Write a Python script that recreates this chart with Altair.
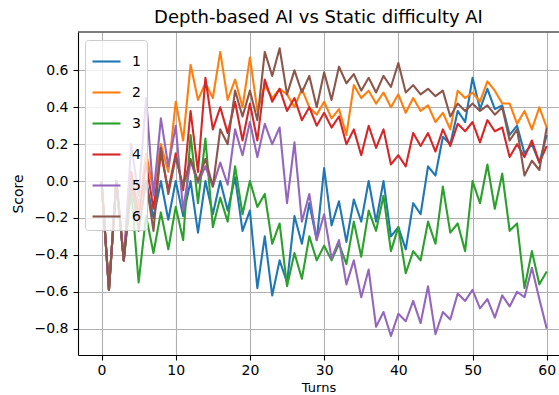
import altair as alt
import pandas as pd

turns = list(range(61))
names = ["1", "2", "3", "4", "5", "6"]
colors = ["#1f77b4", "#ff7f0e", "#2ca02c", "#d62728", "#9467bd", "#8c564b"]

s1 = [0, -0.59, 0, -0.43, 0.0, -0.12, 0.0, -0.2, 0.0, -0.21,
      0.0, -0.19, 0.0, -0.28, 0.0, -0.18, 0.0, -0.16, 0.02, -0.27,
      -0.16, -0.58, -0.3, -0.62, -0.43, -0.55, -0.19, -0.34, -0.12, -0.32,
      0.07, -0.24, -0.11, -0.33, -0.1, -0.22, 0.0, -0.22, 0.0, -0.3,
      -0.25, -0.37, -0.12, -0.18, 0.08, 0.03, 0.24, 0.2, 0.38, 0.32,
      0.56, 0.39, 0.5, 0.39, 0.41, 0.25, 0.3, 0.15, 0.2, 0.1, 0.25]
s2 = [0, -0.59, 0, -0.43, 0.05, -0.15, 0.15, -0.05, 0.2, 0.05,
      0.43, 0.22, 0.63, 0.44, 0.53, 0.45, 0.70, 0.44, 0.55, 0.40,
      0.67, 0.38, 0.52, 0.45, 0.50, 0.47, 0.40, 0.50, 0.40, 0.36,
      0.43, 0.34, 0.39, 0.25, 0.52, 0.45, 0.49, 0.42, 0.48, 0.40,
      0.47, 0.37, 0.45, 0.38, 0.41, 0.32, 0.37, 0.28, 0.49, 0.45,
      0.48, 0.43, 0.54, 0.49, 0.42, 0.42, 0.31, 0.38, 0.28, 0.40, 0.29]
s3 = [0, -0.59, 0, -0.43, -0.05, -0.55, -0.19, -0.39, -0.17, -0.37,
      -0.14, -0.32, 0.25, -0.12, 0.23, -0.25, -0.09, -0.22, 0.08, -0.18,
      0.0, -0.14, -0.07, -0.34, -0.23, -0.57, -0.39, -0.53, -0.30, -0.43,
      -0.35, -0.43, -0.34, -0.45, -0.22, -0.41, -0.16, -0.27, -0.08, -0.38,
      -0.25, -0.5, -0.38, -0.43, -0.22, -0.34, -0.03, -0.28, -0.23, -0.38,
      0.0, -0.12, 0.09, -0.15, 0.04, -0.27, -0.23, -0.58, -0.38, -0.56, -0.49]
s4 = [0, -0.59, 0, -0.43, 0.05, -0.2, 0.1, -0.15, 0.15, -0.05,
      0.15, -0.05, 0.38, 0.05, 0.56, 0.28, 0.40, 0.26, 0.43, 0.22,
      0.42, 0.22, 0.55, 0.43, 0.50, 0.38, 0.45, 0.33, 0.40, 0.30,
      0.37, 0.29, 0.35, 0.20, 0.28, 0.14, 0.30, 0.18, 0.28, 0.09,
      0.14, 0.08, 0.26, 0.19, 0.26, 0.16, 0.28, 0.19, 0.31, 0.27,
      0.32, 0.21, 0.33, 0.27, 0.29, 0.13, 0.20, 0.13, 0.22, 0.10, 0.19]
s5 = [0, -0.59, 0, -0.43, 0.2, -0.08, 0.45, -0.08, 0.34, 0.08,
      0.3, -0.16, 0.11, -0.01, 0.08, -0.03, 0.1, -0.02, 0.28, 0.14,
      0.32, 0.13, 0.31, 0.2, 0.29, -0.12, 0.21, -0.22, -0.07, -0.32,
      -0.18, -0.42, -0.32, -0.56, -0.43, -0.63, -0.48, -0.79, -0.71, -0.84,
      -0.72, -0.76, -0.65, -0.77, -0.57, -0.83, -0.71, -0.75, -0.61, -0.65,
      -0.59, -0.69, -0.64, -0.74, -0.62, -0.68, -0.6, -0.63, -0.47, -0.64, -0.8]
s6 = [0, -0.59, 0, -0.43, 0.0, -0.27, 0.0, -0.27, 0.18, -0.07,
      0.13, -0.03, 0.12, 0.0, 0.12, -0.03, 0.28, 0.2, 0.49, 0.35,
      0.49, 0.33, 0.70, 0.57, 0.72, 0.47, 0.60, 0.48, 0.57, 0.40,
      0.59, 0.44, 0.62, 0.53, 0.58, 0.49, 0.56, 0.48, 0.57, 0.51,
      0.64, 0.48, 0.52, 0.47, 0.50, 0.46, 0.49, 0.35, 0.42, 0.38,
      0.42, 0.38, 0.41, 0.36, 0.40, 0.22, 0.28, 0.03, 0.11, 0.06, 0.29]

series = [s1, s2, s3, s4, s5, s6]
x_ticks = [0, 10, 20, 30, 40, 50, 60]
y_ticks = [-0.8, -0.6, -0.4, -0.2, 0.0, 0.2, 0.4, 0.6]

FONT = "DejaVu Sans"

xenc = alt.X("Turns:Q", scale=alt.Scale(domain=[-3.17, 61.65], nice=False, zero=False),
             axis=alt.Axis(values=x_ticks, title="Turns", format="d", labelPadding=3,
                           titleBaseline="top", titleY=26, titleFontSize=13))
yenc = alt.Y("Score:Q", scale=alt.Scale(domain=[-0.943, 0.808], nice=False, zero=False),
             axis=alt.Axis(values=y_ticks, title="Score", format=".1f",
                           titleX=-60, titleY=161.5, titleAlign="center",
                           titleBaseline="middle", titleAngle=270))
cenc = alt.Color("series:N", scale=alt.Scale(domain=names, range=colors),
                 legend=alt.Legend(title=None, orient="none", legendX=7, legendY=8,
                                   fillColor="rgba(255,255,255,0.8)", strokeColor="#cccccc",
                                   cornerRadius=3, padding=6, symbolType="stroke",
                                   symbolSize=784, symbolStrokeWidth=2.1, labelFontSize=14,
                                   labelFont=FONT, labelColor="black", rowPadding=8,
                                   labelOffset=10, symbolOpacity=1))

layers = []
for name, vals in zip(names, series):
    df = pd.DataFrame({"Turns": turns, "Score": vals, "series": name})
    layers.append(
        alt.Chart(df).mark_line(strokeWidth=2.1, strokeJoin="round", clip=True)
        .encode(x=xenc, y=yenc, color=cenc)
    )

top_spine = alt.Chart(alt.Data(values=[{}])).mark_rule(color="black", strokeWidth=1.1).encode(
    x=alt.value(0), x2=alt.value(481), y=alt.value(0)
)
layers.append(top_spine)

chart = alt.layer(*layers).properties(
    width=481, height=323,
    title=alt.TitleParams("Depth-based AI vs Static difficulty AI", fontSize=18, font=FONT,
                          fontWeight="normal", color="black", offset=4, anchor="middle"),
    autosize=alt.AutoSizeParams(type="none"),
    padding={"left": 78, "top": 32, "right": 0, "bottom": 40},
    background="white",
).configure_view(stroke=None).configure_axis(
    gridColor="#b0b0b0", gridWidth=1.1, tickColor="black", tickWidth=1.1, tickSize=5,
    domainColor="black", domainWidth=1.1, labelFontSize=14, labelColor="black", labelFont=FONT,
    labelPadding=5, titleFontSize=14, titleFontWeight="normal", titleColor="black", titleFont=FONT,
)

chart.save("out.html", embed_options={"renderer": "svg", "actions": False})
